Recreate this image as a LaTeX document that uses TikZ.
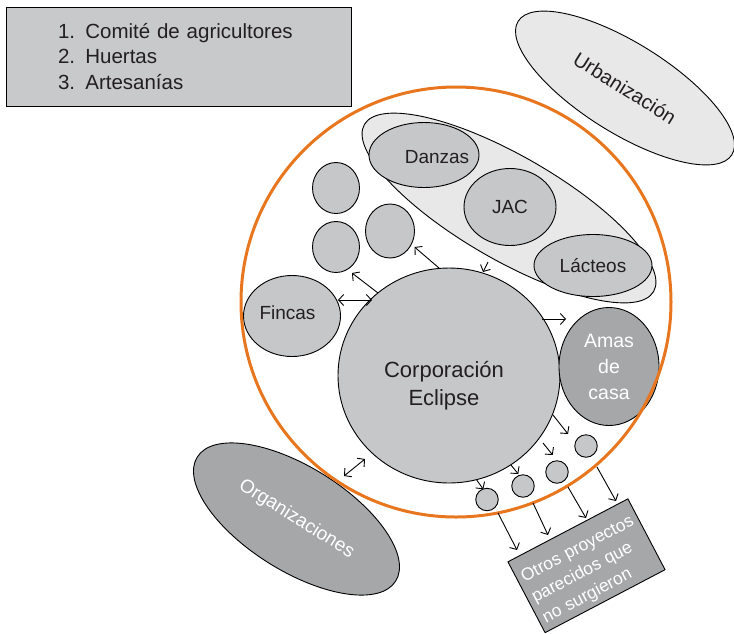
\documentclass[tikz,border=0pt]{standalone}
\usepackage{fontspec}
\setmainfont{Liberation Sans}
\usetikzlibrary{shapes.geometric,arrows.meta}
\definecolor{legendgray}{HTML}{C8C9CB}
\definecolor{midgray}{HTML}{C6C7C9}
\definecolor{darkgrayC}{HTML}{A6A7A9}
\definecolor{lightgrayC}{HTML}{E8E8E8}
\definecolor{orangeC}{HTML}{E8761E}
\definecolor{txt}{HTML}{231F20}
\newcommand\fsLeg{\fontsize{20.5}{25.4}\selectfont}
\newcommand\fsMid{\fontsize{19}{24}\selectfont}
\newcommand\fsBig{\fontsize{22}{28}\selectfont}
\newcommand\fsAmas{\fontsize{19.5}{26}\selectfont}
\newcommand\fsRect{\fontsize{17.5}{23}\selectfont}
\begin{document}
\begin{tikzpicture}[x=1pt,y=-1pt,
  every node/.style={inner sep=0pt, text=txt},
  shp/.style={draw=black, line width=0.9pt},
  oval/.style={shp, ellipse},
  arr/.style={line width=0.9pt, -{Straight Barb[length=5pt,width=11pt]}},
  darr/.style={line width=0.9pt, {Straight Barb[length=5pt,width=11pt]}-{Straight Barb[length=5pt,width=11pt]}}]
\useasboundingbox (0,0) rectangle (734,633);

% legend
\node[shp, fill=legendgray, minimum width=345, minimum height=99, text width=241, align=left, font=\fsLeg] (legend) at (178.5,56.5)
  {1. Comité de agricultores\\2. Huertas\\3. Artesanías};

% outside ellipses
\node[oval, fill=lightgrayC, minimum width=252, minimum height=90, rotate=-32, font=\fontsize{20}{24}\selectfont] (urb) at (625,88) {Urbanización};
\node[oval, fill=darkgrayC, minimum width=234, minimum height=104, rotate=-32, text=white, font=\fsMid] (org) at (296.5,519) {Organizaciones};

% group ellipse
\node[oval, fill=lightgrayC, minimum width=334, minimum height=104, rotate=-30] (grp) at (509,208) {};
\node[oval, fill=midgray, minimum width=110, minimum height=65, label={[font=\fsMid, xshift=13pt, yshift=-2pt]center:Danzas}] (danzas) at (424,155) {};
\node[oval, fill=midgray, minimum width=92, minimum height=77, font=\fsMid] (jac) at (510,207) {JAC};
\node[oval, fill=midgray, minimum width=118, minimum height=62, font=\fsMid] (lacteos) at (593,265.5) {Lácteos};

% small ovals upper left
\node[oval, fill=midgray, minimum width=47, minimum height=51] (c1) at (336,188) {};
\node[oval, fill=midgray, minimum width=47, minimum height=51] (c2) at (336,247) {};
\node[oval, fill=midgray, minimum width=49, minimum height=54] (c3) at (390,231) {};

% Fincas
\node[oval, fill=midgray, minimum width=97, minimum height=81, label={[font=\fsMid, xshift=-4.5pt, yshift=3pt]center:Fincas}] (fincas) at (292,316) {};

% Corporacion Eclipse
\node[oval, fill=midgray, minimum width=222, minimum height=215, label={[font=\fsBig, align=center, xshift=-5pt, yshift=-10pt]center:Corporación\\Eclipse}] (ecl) at (449,375.5) {};

% Amas de casa
\node[oval, fill=darkgrayC, minimum width=100, minimum height=118, text=white, align=center, font=\fsAmas] (amas) at (609,366.5) {Amas\\de\\casa};

% orange boundary
\node[draw=orangeC, line width=3pt, circle, minimum size=430] (orb) at (456,302) {};

% small circles bottom
\node[oval, fill=midgray, minimum width=22.5, minimum height=22.5] (s1) at (487,499.5) {};
\node[oval, fill=midgray, minimum width=22.5, minimum height=22.5] (s2) at (523,486) {};
\node[oval, fill=midgray, minimum width=22.5, minimum height=22.5] (s3) at (557,472) {};
\node[oval, fill=midgray, minimum width=22.5, minimum height=22.5] (s4) at (586,446) {};

% rectangle
\node[shp, fill=darkgrayC, minimum width=135.5, minimum height=80, rotate=27.7, text width=125, align=left, text=white, font=\fsRect] (otros) at (586.5,565.75)
  {\rule{0pt}{21.6pt}Otros proyectos\\parecidos que\\no surgieron};

% arrow end points
\coordinate (a1s) at (439,268); \coordinate (a1e) at (414.5,247);
\coordinate (a2s) at (378,293); \coordinate (a2e) at (352,273);
\coordinate (a3s) at (338,300); \coordinate (a3e) at (372,300);
\coordinate (a4s) at (488,262); \coordinate (a4e) at (483,272);
\coordinate (a5s) at (542,319); \coordinate (a5e) at (566,319);
\coordinate (a6s) at (344,476); \coordinate (a6e) at (365,459);
\coordinate (b1s) at (476.7,480); \coordinate (b1e) at (483.3,489.3);
\coordinate (b2s) at (511,465);   \coordinate (b2e) at (518.3,474);
\coordinate (b3s) at (543,443);   \coordinate (b3e) at (552.7,455);
\coordinate (b4s) at (553,415);   \coordinate (b4e) at (568,434);
\coordinate (d1s) at (498,513);   \coordinate (d1e) at (517,550);
\coordinate (d2s) at (533,503);   \coordinate (d2e) at (548,535);
\coordinate (d3s) at (568,487);   \coordinate (d3e) at (586,518);
\coordinate (d4s) at (597,467);   \coordinate (d4e) at (616,501);

\draw[arr] (a1s) -- (a1e);
\draw[arr] (a2s) -- (a2e);
\draw[darr] (a3s) -- (a3e);
\draw[arr] (a4s) -- (a4e);
\draw[arr] (a5s) -- (a5e);
\draw[darr] (a6s) -- (a6e);
\draw[arr] (b1s) -- (b1e);
\draw[arr] (b2s) -- (b2e);
\draw[arr] (b3s) -- (b3e);
\draw[arr] (b4s) -- (b4e);
\draw[arr] (d1s) -- (d1e);
\draw[arr] (d2s) -- (d2e);
\draw[arr] (d3s) -- (d3e);
\draw[arr] (d4s) -- (d4e);
\end{tikzpicture}
\end{document}
